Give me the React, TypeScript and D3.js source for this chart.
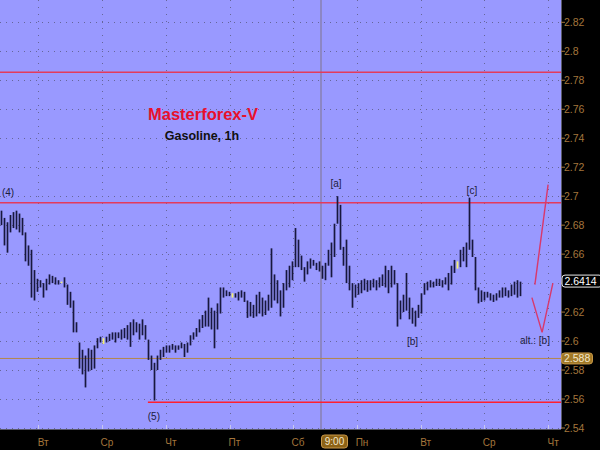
import React from "react";
import * as d3 from "d3";

const highs = [
  2.690, 2.685, 2.682, 2.687, 2.689, 2.690, 2.688, 2.685, 2.675, 2.666,
  2.663, 2.649, 2.643, 2.642, 2.640, 2.643, 2.646, 2.645, 2.644, 2.642,
  2.641, 2.644, 2.639, 2.634, 2.628, 2.613, 2.599, 2.594, 2.590, 2.595,
  2.594, 2.597, 2.602, 2.603, 2.602, 2.603, 2.605, 2.606, 2.606, 2.606,
  2.608, 2.609, 2.611, 2.613, 2.615, 2.613, 2.612, 2.615, 2.611, 2.601,
  2.590, 2.585, 2.590, 2.594, 2.596, 2.597, 2.597, 2.598, 2.597, 2.597,
  2.599, 2.598, 2.599, 2.604, 2.606, 2.609, 2.615, 2.618, 2.621, 2.630,
  2.623, 2.621, 2.626, 2.637, 2.637, 2.635, 2.634, 2.633, 2.633, 2.634,
  2.635, 2.634, 2.628, 2.627, 2.625, 2.632, 2.634, 2.630, 2.628, 2.632,
  2.664, 2.646, 2.642, 2.635, 2.640, 2.649, 2.652, 2.655, 2.678, 2.670,
  2.659, 2.651, 2.655, 2.657, 2.656, 2.654, 2.655, 2.652, 2.654, 2.663,
  2.668, 2.681, 2.700, 2.694, 2.665, 2.670, 2.652, 2.640, 2.639, 2.640,
  2.642, 2.643, 2.642, 2.642, 2.643, 2.642, 2.644, 2.646, 2.652, 2.649,
  2.652, 2.649, 2.640, 2.628, 2.632, 2.647, 2.630, 2.623, 2.621, 2.625,
  2.633, 2.640, 2.641, 2.642, 2.641, 2.643, 2.643, 2.642, 2.644, 2.647,
  2.652, 2.656, 2.655, 2.663, 2.665, 2.668, 2.699, 2.670, 2.658, 2.637,
  2.635, 2.634, 2.634, 2.633, 2.632, 2.633, 2.635, 2.637, 2.637, 2.635,
  2.639, 2.641, 2.642, 2.641,
];

const lows = [
  2.680, 2.666, 2.661, 2.675, 2.678, 2.677, 2.675, 2.673, 2.655, 2.652,
  2.630, 2.628, 2.634, 2.637, 2.630, 2.635, 2.639, 2.640, 2.639, 2.639,
  2.640, 2.637, 2.625, 2.623, 2.606, 2.606, 2.581, 2.577, 2.568, 2.579,
  2.580, 2.581, 2.595, 2.599, 2.598, 2.599, 2.600, 2.601, 2.599, 2.602,
  2.601, 2.602, 2.601, 2.596, 2.604, 2.606, 2.601, 2.604, 2.601, 2.587,
  2.580, 2.559, 2.580, 2.587, 2.589, 2.592, 2.592, 2.594, 2.592, 2.594,
  2.595, 2.589, 2.592, 2.597, 2.601, 2.603, 2.606, 2.609, 2.610, 2.610,
  2.608, 2.595, 2.608, 2.619, 2.630, 2.631, 2.631, 2.630, 2.630, 2.628,
  2.630, 2.627, 2.616, 2.617, 2.616, 2.617, 2.619, 2.617, 2.618, 2.621,
  2.623, 2.628, 2.626, 2.617, 2.623, 2.635, 2.637, 2.642, 2.651, 2.651,
  2.649, 2.641, 2.646, 2.650, 2.652, 2.649, 2.648, 2.643, 2.642, 2.652,
  2.644, 2.658, 2.681, 2.663, 2.652, 2.640, 2.635, 2.623, 2.630, 2.632,
  2.633, 2.635, 2.634, 2.635, 2.637, 2.635, 2.637, 2.638, 2.637, 2.633,
  2.637, 2.639, 2.610, 2.615, 2.620, 2.621, 2.615, 2.612, 2.610, 2.616,
  2.619, 2.632, 2.635, 2.637, 2.637, 2.638, 2.638, 2.637, 2.639, 2.635,
  2.639, 2.647, 2.650, 2.651, 2.655, 2.651, 2.663, 2.658, 2.635, 2.626,
  2.627, 2.628, 2.630, 2.628, 2.627, 2.628, 2.630, 2.630, 2.631, 2.630,
  2.631, 2.632, 2.630, 2.631,
];

const yellowBars = [20, 34, 77, 152];

const yTicks = [2.54, 2.56, 2.58, 2.6, 2.62, 2.64, 2.66, 2.68, 2.7, 2.72, 2.74, 2.76, 2.78, 2.8, 2.82];
const dayTickIdx = [12.2, 33.5, 54.8, 76.0, 97.2, 118.5, 139.7, 160.9, 182.2];
const dayLabels = ["Вт", "Ср", "Чт", "Пт", "Сб", "Пн", "Вт", "Ср", "Чт"];
const markerIdx = 106.5;
const markerLabel = "9:00";

const redLevels = [2.7855, 2.6955];
const supportLevel = { price: 2.5577, fromIdx: 48.8 };
const brownLevel = 2.588;
const lastPrice = 2.6414;

const waveLabels = [
  { text: "(4)", idx: 2.2, price: 2.7022 },
  { text: "[a]", idx: 111.5, price: 2.7087 },
  { text: "[c]", idx: 156.8, price: 2.7036 },
  { text: "[b]", idx: 137.0, price: 2.6 },
  { text: "(5)", idx: 50.8, price: 2.5476 },
  { text: "alt.: [b]", idx: 177.8, price: 2.6004 },
];

const arrowMain = [
  { idx: 177.8, price: 2.639 },
  { idx: 182.2, price: 2.708 },
];
const arrowAlt = [
  { idx: 176.8, price: 2.63 },
  { idx: 180.2, price: 2.606 },
  { idx: 183.8, price: 2.64 },
];

const W = 600;
const H = 450;
const plotRight = 561;
const plotBottom = 429;

export default function App() {
  const x = d3.scaleLinear().domain([0, 173]).range([1.5, 520.5]);
  const y = d3.scaleLinear().domain([2.54, 2.82]).range([428, 22.3]);
  const line = d3
    .line<{ idx: number; price: number }>()
    .x((d) => x(d.idx))
    .y((d) => y(d.price));
  const font = "'Liberation Sans', Arial, sans-serif";
  const axisColor = "#a4763c";
  const lastY = y(lastPrice);
  const brownY = y(brownLevel);
  // tick labels hidden behind the last-price box
  const visibleTickLabels = yTicks.filter((t) => Math.abs(y(t) - lastY) > 9);

  return (
    <svg
      width={W}
      height={H}
      style={{ position: "absolute", left: 0, top: 0, display: "block" }}
      fontFamily={font}
    >
      <rect x={0} y={0} width={W} height={H} fill="#000" />
      <rect x={0} y={0} width={plotRight} height={plotBottom} fill="#9999ff" />

      {/* grid */}
      {yTicks.map((t) => (
        <line
          key={"h" + t}
          x1={0}
          x2={plotRight}
          y1={Math.round(y(t)) + 0.5}
          y2={Math.round(y(t)) + 0.5}
          stroke="#66669a"
          strokeWidth={1}
          strokeDasharray="1,5"
        />
      ))}
      {dayTickIdx.map((d, i) => (
        <line
          key={"v" + i}
          x1={Math.round(x(d)) + 0.5}
          x2={Math.round(x(d)) + 0.5}
          y1={0}
          y2={plotBottom}
          stroke="#66669a"
          strokeWidth={1}
          strokeDasharray="1,6"
        />
      ))}

      {/* 9:00 marker line */}
      <line
        x1={x(markerIdx)}
        x2={x(markerIdx)}
        y1={0}
        y2={plotBottom}
        stroke="#8c86c4"
        strokeWidth={2}
      />

      {/* levels */}
      {redLevels.map((p) => (
        <line key={"r" + p} x1={0} x2={plotRight} y1={y(p)} y2={y(p)} stroke="#e43a5c" strokeWidth={1.5} />
      ))}
      <line
        x1={x(supportLevel.fromIdx)}
        x2={plotRight}
        y1={y(supportLevel.price)}
        y2={y(supportLevel.price)}
        stroke="#ff1f2f"
        strokeWidth={1.5}
      />
      <line x1={0} x2={plotRight} y1={brownY} y2={brownY} stroke="#b4864a" strokeWidth={1} />

      {/* bars */}
      {highs.map((h, i) => (
        <line
          key={"b" + i}
          x1={x(i)}
          x2={x(i)}
          y1={y(h)}
          y2={y(lows[i])}
          stroke={yellowBars.includes(i) ? "#f4f070" : "#18183e"}
          strokeWidth={1.7}
        />
      ))}

      {/* forecast arrows */}
      <path d={line(arrowMain) || ""} fill="none" stroke="#d8386c" strokeWidth={1.4} />
      <path d={line(arrowAlt) || ""} fill="none" stroke="#d8386c" strokeWidth={1.4} />

      {/* wave labels */}
      {waveLabels.map((l) => (
        <text
          key={l.text + l.idx}
          x={x(l.idx)}
          y={y(l.price)}
          textAnchor="middle"
          dominantBaseline="central"
          fontSize={10}
          fill="#1c1c3c"
        >
          {l.text}
        </text>
      ))}

      {/* title */}
      <text x={203} y={120} textAnchor="middle" fontSize={16.5} fontWeight="bold" fill="#e8102c">
        Masterforex-V
      </text>
      <text x={202} y={140} textAnchor="middle" fontSize={12.5} fontWeight="bold" fill="#111">
        Gasoline, 1h
      </text>

      {/* right axis */}
      <line x1={plotRight + 0.5} x2={plotRight + 0.5} y1={0} y2={plotBottom} stroke="#5a5a6a" strokeWidth={1} />
      {yTicks.map((t) => (
        <line key={"ytl" + t} x1={plotRight} x2={plotRight + 4} y1={y(t)} y2={y(t)} stroke={axisColor} strokeWidth={1} />
      ))}
      {visibleTickLabels.map((t) => (
        <text key={"yt" + t} x={plotRight + 3} y={y(t)} dominantBaseline="central" fontSize={10.5} fill={axisColor}>
          {String(t)}
        </text>
      ))}

      {/* brown level box */}
      <rect x={plotRight + 0.5} y={brownY - 5.5} width={31} height={11} rx={3} fill="#a07826" stroke="#c89848" strokeWidth={1} />
      <text x={plotRight + 3} y={brownY} dominantBaseline="central" fontSize={10.5} fill="#f4e6c8">
        {String(brownLevel)}
      </text>

      {/* last price box */}
      <rect x={plotRight + 1} y={lastY - 6} width={40} height={12} rx={3} fill="#000" stroke="#e8e8e8" strokeWidth={1} />
      <text x={plotRight + 3.5} y={lastY} dominantBaseline="central" fontSize={10.5} fill="#fff">
        {String(lastPrice)}
      </text>

      {/* bottom axis */}
      <line x1={0} x2={plotRight} y1={plotBottom + 0.5} y2={plotBottom + 0.5} stroke="#5a5a6a" strokeWidth={1} />
      {dayTickIdx.map((d, i) => (
        <g key={"xt" + i}>
          <line
            x1={Math.round(x(d)) + 0.5}
            x2={Math.round(x(d)) + 0.5}
            y1={plotBottom - 4}
            y2={plotBottom}
            stroke="#c8c8ee"
            strokeWidth={1}
          />
          <text x={x(d) + 5} y={442} textAnchor="middle" dominantBaseline="central" fontSize={10} fill={axisColor}>
            {dayLabels[i]}
          </text>
        </g>
      ))}
      <rect x={x(markerIdx) + 0.5} y={435} width={26} height={13} rx={3} fill="#8c6216" stroke="#c8984a" strokeWidth={1} />
      <text x={x(markerIdx) + 13.5} y={441.5} textAnchor="middle" dominantBaseline="central" fontSize={10} fill="#f4e8cc">
        {markerLabel}
      </text>
    </svg>
  );
}
